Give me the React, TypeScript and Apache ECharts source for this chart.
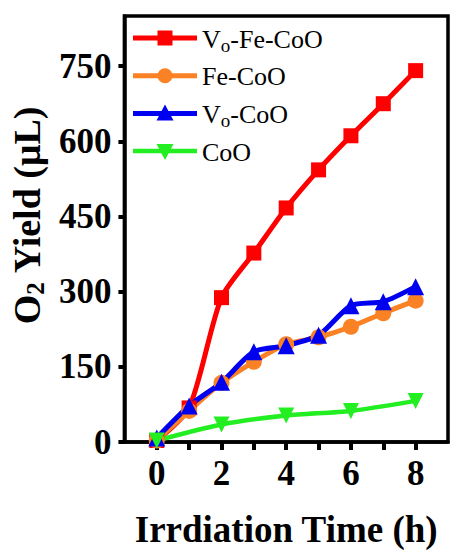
import React, { useEffect, useRef } from "react";
import * as echarts from "echarts";

// Irradiation time (h)
const hours = [0, 1, 2, 3, 4, 5, 6, 7, 8];
const coOHours = [0, 2, 4, 6, 8];

// O2 yield (μL)
const voFeCoO = [3, 68, 288, 377, 467, 543, 611, 675, 741];
const feCoO = [3, 62, 118, 160, 195, 209, 230, 257, 282];
const voCoO = [8, 72, 119, 180, 192, 213, 272, 280, 310];
const coO = [3, 35, 53, 62, 82];

const xTicks = [0, 1, 2, 3, 4, 5, 6, 7, 8];
const xLabels = [0, 2, 4, 6, 8];
const yTicks = [0, 150, 300, 450, 600, 750];

const seriesNames = ["Vo-Fe-CoO", "Fe-CoO", "Vo-CoO", "CoO"];
const seriesColors = ["#ff0000", "#fb8125", "#0000f0", "#22ee22"];
const legendRich = [
  "{m|V}{s|o}{m|-Fe-CoO}",
  "{m|Fe-CoO}",
  "{m|V}{s|o}{m|-CoO}",
  "{m|CoO}",
];

const SERIF = "Liberation Serif";

export default function App() {
  const ref = useRef<HTMLDivElement>(null);

  useEffect(() => {
    if (!ref.current) return;
    const chart = echarts.init(ref.current, undefined, { renderer: "svg" });

    const pair = (xs: number[], ys: number[]) => xs.map((x, i) => [x, ys[i]]);

    const mkSeries = (
      idx: number,
      data: number[][],
      symbol: string,
      size: number,
      width: number,
      rotate = 0
    ) => ({
      name: seriesNames[idx],
      type: "line",
      data,
      smooth: 0.25,
      symbol,
      symbolSize: size,
      symbolRotate: rotate,
      showAllSymbol: true,
      lineStyle: { color: seriesColors[idx], width },
      itemStyle: { color: seriesColors[idx], borderWidth: 0 },
      emphasis: { disabled: true },
    });

    // legend key: line + marker + label, one row per series
    const keyLeft = 133;
    const keyLen = 64;
    const keyTop = 38;
    const keyStep = 37.7;
    const legendRows = seriesNames.map((_, i) => {
      const y = keyTop + i * keyStep;
      const cx = keyLeft + keyLen / 2;
      const color = seriesColors[i];
      let marker: any;
      if (i === 0) {
        marker = { type: "rect", shape: { x: cx - 7.5, y: y - 7.5, width: 15, height: 15 }, style: { fill: color } };
      } else if (i === 1) {
        marker = { type: "circle", shape: { cx, cy: y, r: 7.5 }, style: { fill: color } };
      } else if (i === 2) {
        marker = {
          type: "polygon",
          shape: { points: [[cx, y - 9], [cx - 8.5, y + 7], [cx + 8.5, y + 7]] },
          style: { fill: color },
        };
      } else {
        marker = {
          type: "polygon",
          shape: { points: [[cx, y + 9], [cx - 8.5, y - 7], [cx + 8.5, y - 7]] },
          style: { fill: color },
        };
      }
      return {
        type: "group",
        children: [
          {
            type: "line",
            shape: { x1: keyLeft, y1: y, x2: keyLeft + keyLen, y2: y },
            style: { stroke: color, lineWidth: i === 3 ? 4.5 : 5 },
          },
          marker,
          {
            type: "text",
            x: keyLeft + keyLen + 5,
            y: y + 1,
            style: {
              text: legendRich[i],
              fontFamily: SERIF,
              fontSize: 26,
              fill: "#000",
              verticalAlign: "middle",
              align: "left",
              rich: {
                m: { fontFamily: SERIF, fontSize: 26, fill: "#000", lineHeight: 32 },
                s: {
                  fontFamily: SERIF,
                  fontSize: 19,
                  fill: "#000",
                  lineHeight: 14,
                  verticalAlign: "bottom",
                },
              },
            },
          },
        ],
      };
    });

    chart.setOption({
      animation: false,
      backgroundColor: "#ffffff",
      textStyle: { fontFamily: SERIF },
      grid: {
        left: 124,
        right: 3,
        top: 16,
        bottom: 111,
        show: true,
        borderColor: "#000",
        borderWidth: 3.5,
        containLabel: false,
      },
      graphic: legendRows,
      xAxis: {
        type: "value",
        min: -1,
        max: 9,
        name: "Irrdiation Time (h)",
        nameLocation: "middle",
        nameGap: 69,
        nameTextStyle: {
          fontFamily: SERIF,
          fontWeight: "bold",
          fontSize: 37,
          color: "#000",
        },
        axisLine: { show: true, onZero: false, lineStyle: { color: "#000", width: 3.5 } },
        axisTick: {
          show: true,
          customValues: xTicks,
          length: 8,
          lineStyle: { color: "#000", width: 4 },
        },
        axisLabel: {
          customValues: xLabels,
          margin: 14,
          fontFamily: SERIF,
          fontWeight: "bold",
          fontSize: 35,
          color: "#000",
        },
        splitLine: { show: false },
      },
      yAxis: {
        type: "value",
        min: 0,
        max: 850,
        name: "{b|O}{s|2}{b| Yield (μL)}",
        nameLocation: "middle",
        nameRotate: 90,
        nameGap: 74,
        nameTextStyle: {
          fontFamily: SERIF,
          fontWeight: "bold",
          fontSize: 38,
          color: "#000",
          padding: [0, 0, 0, 28],
          rich: {
            b: { fontFamily: SERIF, fontWeight: "bold", fontSize: 38, color: "#000", lineHeight: 42 },
            s: {
              fontFamily: SERIF,
              fontWeight: "bold",
              fontSize: 25,
              color: "#000",
              lineHeight: 18,
              verticalAlign: "bottom",
            },
          },
        },
        axisLine: { show: true, onZero: false, lineStyle: { color: "#000", width: 3.5 } },
        axisTick: {
          show: true,
          customValues: yTicks,
          length: 6,
          lineStyle: { color: "#000", width: 4 },
        },
        axisLabel: {
          customValues: yTicks,
          margin: 13,
          fontFamily: SERIF,
          fontWeight: "bold",
          fontSize: 35,
          color: "#000",
        },
        splitLine: { show: false },
      },
      series: [
        mkSeries(0, pair(hours, voFeCoO), "rect", 15, 5),
        mkSeries(1, pair(hours, feCoO), "circle", 16, 5),
        mkSeries(2, pair(hours, voCoO), "triangle", 17, 5),
        mkSeries(3, pair(coOHours, coO), "triangle", 16, 4.5, 180),
      ],
    });

    return () => chart.dispose();
  }, []);

  return (
    <div
      ref={ref}
      style={{ width: 451, height: 553, position: "absolute", left: 0, top: 0 }}
    />
  );
}
